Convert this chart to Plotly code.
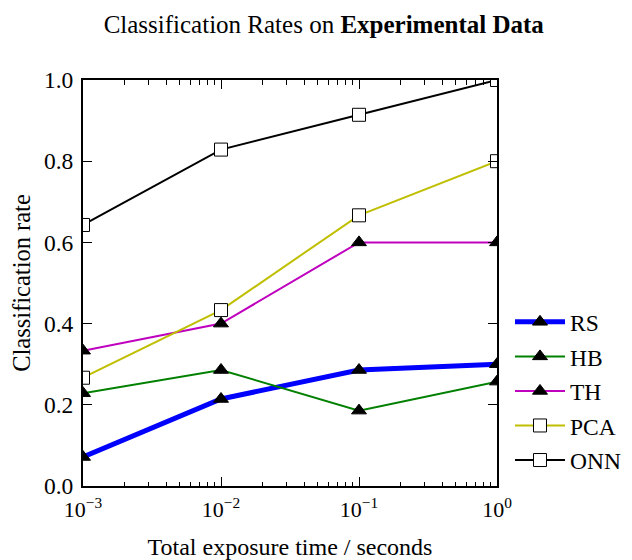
import plotly.graph_objects as go

x_vals = [1e-3, 1e-2, 1e-1, 1e0]
rs = [0.0714, 0.2143, 0.2857, 0.30]
hb = [0.2286, 0.2857, 0.1857, 0.2571]
th = [0.3333, 0.40, 0.60, 0.60]
pca = [0.2667, 0.4333, 0.6667, 0.80]
onn = [0.6429, 0.8286, 0.9143, 1.00]

x_tickvals = [1e-3, 1e-2, 1e-1, 1e0]
x_ticktext = ["10<sup>−3</sup>", "10<sup>−2</sup>", "10<sup>−1</sup>", "10<sup>0</sup>"]
x_minorvals = [m * d for d in (1e-3, 1e-2, 1e-1) for m in range(2, 10)]
y_tickvals = [0.0, 0.2, 0.4, 0.6, 0.8, 1.0]

series = [
    ("RS", rs, "#0000ff", 5, "triangle-up", "black"),
    ("HB", hb, "#008000", 2, "triangle-up", "black"),
    ("TH", th, "#bf00bf", 2, "triangle-up", "black"),
    ("PCA", pca, "#bfbf00", 2, "square", "white"),
    ("ONN", onn, "#000000", 2, "square", "white"),
]

FONT = "'Liberation Serif', 'Times New Roman', Times, serif"
fig = go.Figure()
for name, vals, color, lw, sym, fill in series:
    fig.add_trace(go.Scatter(
        x=x_vals, y=vals, name=name, mode="lines+markers",
        line=dict(color=color, width=lw),
        marker=dict(symbol=sym, size=13, color=fill, line=dict(color="black", width=1)),
        legendgroup=name,
    ))

axis_common = dict(
    showline=True, linecolor="black", linewidth=2, mirror="allticks",
    ticks="inside", ticklen=9, tickwidth=1, tickcolor="black",
    showgrid=False, zeroline=False, automargin=False,
)

fig.update_layout(
    width=624, height=552,
    margin=dict(l=75, r=135, t=72, b=74, autoexpand=False),
    paper_bgcolor="white", plot_bgcolor="white",
    font=dict(family=FONT, size=20, color="black"),
    title=dict(text="Classification Rates on <b>Experimental Data</b>",
               x=0.506, xanchor="center", y=0.971, yanchor="middle",
               font=dict(family=FONT, size=25, color="black")),
    xaxis=dict(type="log", range=[-3, 0], tickvals=x_tickvals, ticktext=x_ticktext,
               tickfont=dict(family=FONT, size=22, color="black"),
               ticklabelstandoff=3,
               title=dict(text="Total exposure time / seconds", font=dict(family=FONT, size=24), standoff=17),
               minor=dict(tickmode="array", tickvals=x_minorvals, ticks="inside", ticklen=4.5,
                          tickcolor="black", tickwidth=1, showgrid=False),
               **axis_common),
    yaxis=dict(range=[0, 1], tickvals=y_tickvals, tickformat=".1f",
               tickfont=dict(family=FONT, size=23.5, color="black"),
               ticklabelstandoff=3,
               title=dict(text="Classification rate", font=dict(family=FONT, size=24.5), standoff=15),
               **axis_common),
    legend=dict(x=1.0314, xanchor="left", y=0.458, yanchor="top",
                bgcolor="rgba(0,0,0,0)", borderwidth=0,
                font=dict(family=FONT, size=23.5, color="black"),
                tracegroupgap=1, itemwidth=50),
    showlegend=True,
)

fig.write_html("out.html")
